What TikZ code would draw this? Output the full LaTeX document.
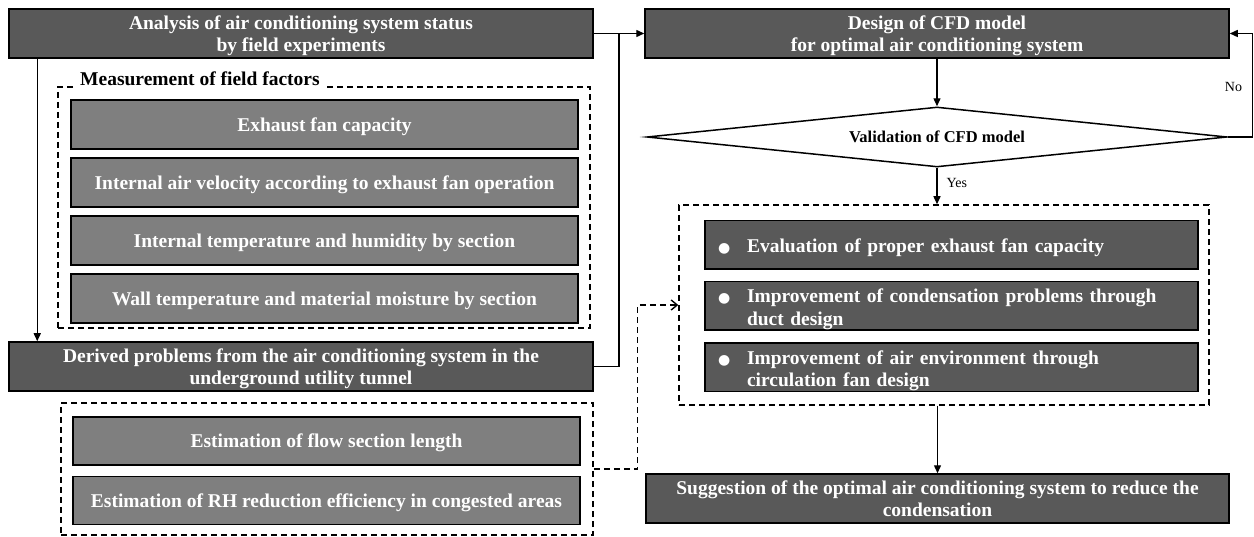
\documentclass[tikz,border=0pt]{standalone}
\usepackage{fontspec}
\setmainfont{Liberation Serif}
\newfontfamily\symfont{DejaVu Sans}
\usepackage{xcolor}
\usetikzlibrary{shapes.geometric, positioning, arrows.meta, calc}

\definecolor{boxdark}{RGB}{89,89,89}
\definecolor{boxgray}{RGB}{127,127,127}
\newcommand{\boxfont}{\fontsize{19.5}{22.5}\selectfont\bfseries}
\newcommand{\bul}{\hspace*{1pt}{\symfont\fontsize{14}{14}\selectfont ●}}
\newcommand{\bulrow}[1]{\begin{tabular}[b]{@{}p{30pt}@{}l@{}}\bul & #1\end{tabular}}

\begin{document}
\begin{tikzpicture}[
    x=1pt, y=-1pt,
    mainbox/.style={rectangle, draw=black, line width=1.5pt, fill=boxdark, text=white, font=\boxfont, align=center, inner sep=0pt, text depth=0pt, minimum width=584pt, minimum height=49pt},
    factor/.style={mainbox, fill=boxgray, minimum width=507pt},
    result/.style={mainbox, minimum width=493pt, minimum height=48.5pt, text width=469pt, inner xsep=12pt, align=left},
    group/.style={rectangle, draw=black, line width=1.5pt, dash pattern=on 6pt off 4pt, minimum width=532pt},
    decide/.style={diamond, draw=black, line width=1.5pt, fill=white, aspect=9.7, inner sep=0pt, minimum width=580pt, minimum height=60pt, font=\fontsize{16.5}{20}\selectfont\bfseries},
    link/.style={draw=black, line width=1.4pt},
    arr/.style={link, -{Triangle[length=8pt, width=7pt]}},
    dasharr/.style={link, dash pattern=on 6pt off 4pt, -{Straight Barb[length=6pt, width=10pt]}},
    lab/.style={font=\fontsize{14}{16}\selectfont, inner sep=0pt}
]
\useasboundingbox (0,0) rectangle (1254,537);

% --- left column: field study ---
\node[mainbox] (anal) at (301,33.5) {Analysis of air conditioning system status\\ by field experiments};

% measured quantities
\node[group, minimum height=241pt] (meas) at (324,207.5) {};
\node[font=\boxfont, fill=white, inner xsep=4pt, inner ysep=2pt, anchor=base west] (measlab) at (76,86) {Measurement of field factors};
\node[factor] (m1) at (324.5,124.5) {Exhaust fan capacity};
\node[factor, below=7.5pt of m1] (m2) {Internal air velocity according to exhaust fan operation};
\node[factor, below=7.5pt of m2] (m3) {Internal temperature and humidity by section};
\node[factor, below=7.5pt of m3] (m4) {Wall temperature and material moisture by section};

\node[mainbox] (derived) at (301,366.5) {Derived problems from the air conditioning system in the\\ underground utility tunnel};

% estimations
\node[group, minimum height=132pt] (estim) at (327,469) {};
\node[factor, minimum height=48pt] (e1) at (326.5,441) {Estimation of flow section length};
\node[factor, minimum height=48pt, below=10pt of e1] (e2) {Estimation of RH reduction efficiency in congested areas};

% --- right column: CFD ---
\node[mainbox] (design) at (937,33.5) {Design of CFD model\\ for optimal air conditioning system};
\node[decide] (valid) at (937,137) {Validation of CFD model};

% improvements
\node[group, minimum width=530pt, minimum height=200pt] (outcome) at (944,305) {};
\node[result] (r1) at (951.5,245) {\bulrow{Evaluation of proper exhaust fan capacity}};
\node[result, below=11pt of r1] (r2) {\bulrow{Improvement of condensation problems through\\ & duct design}};
\node[result, below=11.5pt of r2] (r3) {\bulrow{Improvement of air environment through\\ & circulation fan design}};

\node[mainbox, minimum width=583pt] (suggest) at (937.5,498.5) {Suggestion of the optimal air conditioning system to reduce the\\ condensation};

% --- connectors ---
% field study feeds the model
\draw[arr] (anal.east) -- (design.west);
\draw[link] (derived.east) -| ($(anal.east)!0.5!(design.west)$);
\draw[arr] ([xshift=29pt]anal.south west) -- ([xshift=29pt]derived.north west);

% validation loop
\draw[arr] (design) -- (valid);
\draw[arr] (valid.east) -- ++(25,0) |- (design.east) node[lab, pos=0.24, left=10pt] {No};
\draw[arr] (valid.south) -- (valid.south |- outcome.north) node[lab, pos=0.42, right=9pt] {Yes};
\draw[arr] (outcome.south -| suggest.north) -- (suggest.north);

% estimations used for the improvements
\draw[dasharr] (estim.east) -- ++(44,0) |- (outcome.west);

\end{tikzpicture}
\end{document}
